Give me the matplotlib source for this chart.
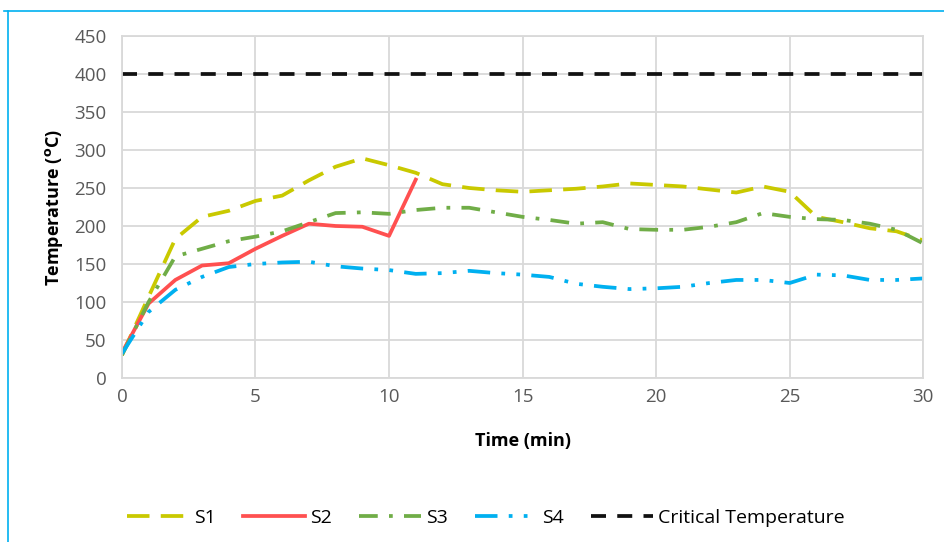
import matplotlib.pyplot as plt
from matplotlib.lines import Line2D
import numpy as np

plt.rcParams['font.family'] = ['Open Sans', 'DejaVu Sans']

# time in minutes
t = np.arange(0, 31)
t_s2 = np.arange(0, 12)

s1 = [30, 107, 183, 212, 220, 233, 240, 260, 278, 289, 280, 270, 255, 250, 247, 245,
      247, 249, 252, 256, 254, 252, 248, 244, 252, 245, 212, 205, 197, 193, 181]
s2 = [33, 98, 129, 148, 151, 170, 187, 203, 200, 199, 187, 261]
s3 = [30, 100, 160, 170, 180, 186, 193, 205, 217, 218, 216, 221, 224, 224, 218, 212,
      208, 203, 205, 196, 195, 195, 199, 205, 217, 212, 209, 208, 203, 195, 177]
s4 = [32, 87, 116, 133, 146, 150, 152, 153, 147, 144, 142, 137, 138, 141, 138, 136,
      133, 124, 120, 117, 118, 120, 125, 129, 129, 125, 136, 135, 129, 129, 131]
critical = 400

fig = plt.figure(figsize=(9.45, 5.42), dpi=100)
ax = fig.add_axes([0.129, 0.3026, 0.848, 0.631])

lw = 2.7
ax.plot(t, s1, color='#c9c900', lw=lw, dashes=(6, 3), label='S1')
ax.plot(t_s2, s2, color='#ff5050', lw=lw, label='S2')
ax.plot(t, s3, color='#70ad47', lw=lw, dashes=(5, 3, 1, 3), label='S3')
ax.plot(t, s4, color='#00b0f0', lw=lw, dashes=(6, 3, 1, 3, 1, 3), label='S4')
ax.plot([0, 30], [critical, critical], color='#111111', lw=lw, dashes=(4, 3),
        label='Critical Temperature')

ax.set_xlim(0, 30)
ax.set_ylim(0, 450)
ax.set_xticks(range(0, 31, 5))
ax.set_yticks(range(0, 451, 50))
ax.grid(True, color='#d9d9d9', lw=1.3)
ax.set_axisbelow(True)
for sp in ax.spines.values():
    sp.set_color('#d9d9d9')
    sp.set_linewidth(1.3)
ax.tick_params(length=0, labelsize=13.5, labelcolor='#595959')
ax.tick_params(axis='y', pad=11)
ax.tick_params(axis='x', pad=7)

ax.set_xlabel('Time (min)', fontsize=13, fontweight='bold', labelpad=19)
ax.set_ylabel(r'Temperature ($^{\mathbf{o}}$C)', fontsize=13, fontweight='bold', labelpad=7)

fig.legend(loc='center', bbox_to_anchor=(0.514, 0.045), ncol=5, frameon=False,
           fontsize=14, handlelength=3.2, columnspacing=1.4, handletextpad=0.25)

# thin blue frame along the top and left
fig.add_artist(Line2D([0.004, 1.0], [0.979, 0.979], color='#00b0f0', lw=1.2))
fig.add_artist(Line2D([0.0085, 0.0085], [0.0, 0.979], color='#00b0f0', lw=1.2))

fig.savefig('out.png', dpi=100)
